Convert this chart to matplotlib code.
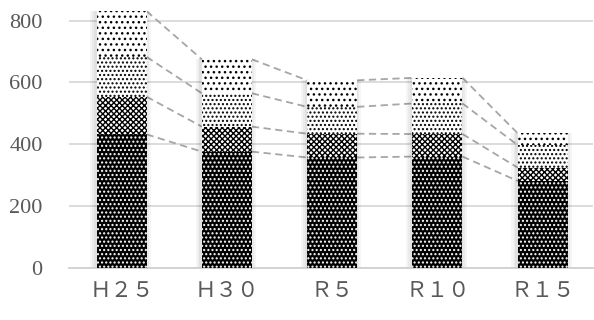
import matplotlib
matplotlib.use("Agg")
import matplotlib.pyplot as plt
import numpy as np

categories = ["Ｈ２５", "Ｈ３０", "Ｒ５", "Ｒ１０", "Ｒ１５"]
seg_bottom = [432, 376, 357, 360, 281]
seg_second = [122, 81, 77, 73, 43]
seg_third = [129, 108, 87, 99, 73]
seg_top = [148, 110, 86, 83, 38]
yticks = [0, 200, 400, 600, 800]

plt.rcParams['hatch.linewidth'] = 1.0
plt.rcParams['font.family'] = ['Liberation Serif', 'Noto Sans CJK JP', 'DejaVu Sans']

fig = plt.figure(figsize=(5.94, 3.20), dpi=100)
ax = fig.add_axes([0.116, 0.1634, 0.882, 0.8297])

x = np.arange(len(categories))
w = 0.475
segments = [seg_bottom, seg_second, seg_third, seg_top]
styles = [
    dict(facecolor='black', edgecolor='white', hatch='....'),
    dict(facecolor='white', edgecolor='black', hatch='xxxxxx'),
    dict(facecolor='white', edgecolor='black', hatch='....'),
    dict(facecolor='white', edgecolor='black', hatch='...'),
]

# soft shadow behind stacked bars
totals = np.sum(np.array(segments, dtype=float), axis=0)
for k, a in zip([0.10, 0.06, 0.03], [0.04, 0.04, 0.04]):
    ax.bar(x - 0.01, totals, w + k, color='black', alpha=a,
           linewidth=0, zorder=2.5)

bottom = np.zeros(len(categories))
tops = []
for seg, st in zip(segments, styles):
    vals = np.array(seg, dtype=float)
    ax.bar(x, vals, w, bottom=bottom, linewidth=0, zorder=3, **st)
    bottom = bottom + vals
    tops.append(bottom.copy())

for lvl in tops:
    for i in range(len(categories) - 1):
        ax.plot([x[i] + w / 2, x[i + 1] - w / 2], [lvl[i], lvl[i + 1]],
                color='#a6a6a6', linestyle=(0, (4, 2.5)), linewidth=1.3, zorder=2)

ax.set_xlim(-0.5, 4.475)
ax.set_ylim(0, 860)
ax.set_yticks(yticks)
ax.set_yticklabels([str(v) for v in yticks])
ax.set_xticks(x)
ax.set_xticklabels(categories)
ax.tick_params(axis='y', length=0, pad=19, labelsize=16, labelcolor='#595959')
ax.tick_params(axis='x', length=0, pad=11, labelsize=15.5, labelcolor='#595959')
ax.grid(axis='y', color='#d9d9d9', linewidth=1.3, zorder=0)
for s in ['top', 'right', 'left']:
    ax.spines[s].set_visible(False)
ax.spines['bottom'].set_color('#d0d0d0')
ax.spines['bottom'].set_linewidth(1.3)
ax.set_axisbelow(True)

fig.savefig('out.png', dpi=100)
